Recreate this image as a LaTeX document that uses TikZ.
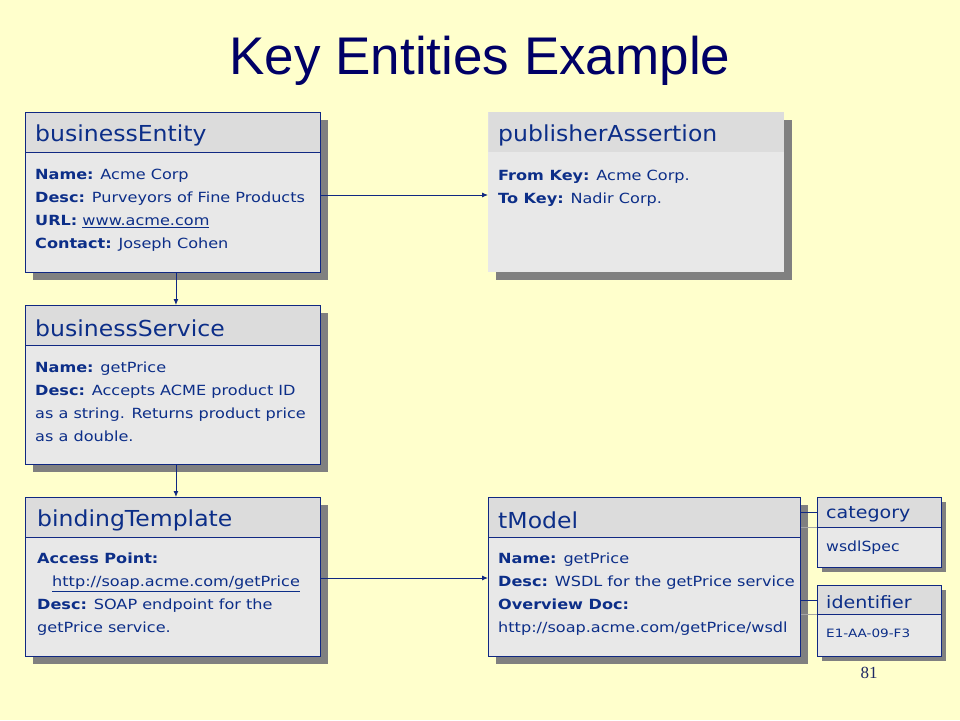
\documentclass[tikz,border=0pt]{standalone}
\usepackage{fontspec}
\setmainfont{DejaVu Sans}
\newfontfamily\headfont[FakeStretch=1.07]{DejaVu Sans}
\newfontfamily\bodyfont[FakeStretch=1.15]{DejaVu Sans}
\newfontfamily\smallfont[FakeStretch=1.12]{DejaVu Sans}
\newfontfamily\idfont[FakeStretch=1.18]{DejaVu Sans}
\newfontfamily\titlefont{Liberation Sans}
\newfontfamily\pagefont{Liberation Serif}
\usepackage{tikz}
\usetikzlibrary{arrows.meta}
\usetikzlibrary{calc,shadows,backgrounds}
\definecolor{slidebg}{RGB}{255,255,204}
\definecolor{titleblue}{RGB}{0,0,102}
\definecolor{boxline}{RGB}{16,40,130}
\definecolor{textblue}{RGB}{12,46,136}
\definecolor{headfill}{RGB}{220,220,220}
\definecolor{bodyfill}{RGB}{232,232,232}
\definecolor{shadowgray}{RGB}{128,128,128}
\definecolor{pageblue}{RGB}{30,40,100}
\tikzset{
 box/.style={draw=boxline, line width=.9pt, fill=bodyfill, anchor=north west, inner sep=0pt},
 boxshadow/.style={general shadow={fill=shadowgray, shadow xshift=#1, shadow yshift=-#1}},
 bareheadband/.style={path picture={
   \fill[headfill] (path picture bounding box.north west) rectangle ([yshift=-#1]path picture bounding box.north east);}},
 headband/.style={path picture={
   \fill[headfill] (path picture bounding box.north west) rectangle ([yshift=-#1]path picture bounding box.north east);
   \draw[boxline, line width=1.8pt] ([yshift=-#1]path picture bounding box.north west) -- ([yshift=-#1]path picture bounding box.north east);}},
 titletext/.style={anchor=west, inner sep=0pt, text=textblue, font=\headfont\fontsize{22}{26}\selectfont},
 smalltitle/.style={anchor=west, inner sep=0pt, text=textblue, font=\smallfont\fontsize{17}{20}\selectfont},
 bodytext/.style={anchor=north west, inner sep=0pt, align=left, text=textblue, font=\bodyfont\fontsize{14}{23}\selectfont},
 conn/.style={draw=boxline, line width=.9pt, -{Latex[length=6pt,width=5pt]}},
 link/.style={draw=boxline, line width=.9pt},
 linkshade/.style={draw=shadowgray!70, line width=.8pt}
}

\begin{document}
\begin{tikzpicture}[x=1pt, y=-1pt]
\fill[slidebg] (0,0) rectangle (960,720);
\useasboundingbox (0,0) rectangle (960,720);

\node[font=\titlefont\fontsize{53}{60}\selectfont, text=titleblue, anchor=base] (title) at (480,74) {Key Entities Example};

% entity boxes
\node[box, boxshadow=8pt, headband=40pt, minimum width=295pt, minimum height=160pt] (ent) at (25,112) {};
\node[box, boxshadow=8pt, headband=40pt, minimum width=295pt, minimum height=159pt] (svc) at (25,305) {};
\node[box, boxshadow=8pt, headband=40pt, minimum width=295pt, minimum height=159pt] (bind) at (25,497) {};
\node[box, draw=none, boxshadow=8pt, bareheadband=40pt, minimum width=296pt, minimum height=160pt] (pub) at (488,112) {};
\node[box, boxshadow=8pt, headband=40pt, minimum width=312pt, minimum height=159pt] (tmod) at (488,497) {};
\node[box, boxshadow=5pt, headband=30pt, minimum width=124pt, minimum height=70pt] (cat) at (817,497) {};
\node[box, boxshadow=5pt, headband=29pt, minimum width=124pt, minimum height=71pt] (ident) at (817,585) {};

% titles
\node[titletext] (ent-title) at ([xshift=10pt,yshift=-23pt]ent.north west) {businessEntity};
\node[titletext] (svc-title) at ([xshift=10pt,yshift=-23pt]svc.north west) {businessService};
\node[titletext] (bind-title) at ([xshift=12pt,yshift=-23pt]bind.north west) {bindingTemplate};
\node[titletext] (pub-title) at ([xshift=10pt,yshift=-23pt]pub.north west) {publisherAssertion};
\node[titletext] (tmod-title) at ([xshift=10pt,yshift=-23pt]tmod.north west) {tModel};
\node[smalltitle] (cat-title) at ([xshift=9pt,yshift=-17pt]cat.north west) {category};
\node[smalltitle] (ident-title) at ([xshift=9pt,yshift=-17pt]ident.north west) {identifier};

% contents
\node[bodytext] (ent-body) at ([xshift=10pt,yshift=-57pt]ent.north west)
 {\textbf{Name:} Acme Corp\\ \textbf{Desc:} Purveyors of Fine Products\\ \textbf{URL:} \underline{www.acme.com}\\ \textbf{Contact:} Joseph Cohen};
\node[bodytext] (svc-body) at ([xshift=10pt,yshift=-57pt]svc.north west)
 {\textbf{Name:} getPrice\\ \textbf{Desc:} Accepts ACME product ID\\ as a string. Returns product price\\ as a double.};
\node[bodytext] (bind-body) at ([xshift=12pt,yshift=-56pt]bind.north west)
 {\textbf{Access Point:}\\ \hspace*{15pt}\underline{http://soap.acme.com/getPrice}\\ \textbf{Desc:} SOAP endpoint for the\\ getPrice service.};
\node[bodytext] (pub-body) at ([xshift=10pt,yshift=-58pt]pub.north west)
 {\textbf{From Key:} Acme Corp.\\ \textbf{To Key:} Nadir Corp.};
\node[bodytext] (tmod-body) at ([xshift=10pt,yshift=-56pt]tmod.north west)
 {\textbf{Name:} getPrice\\ \textbf{Desc:} WSDL for the getPrice service\\ \textbf{Overview Doc:}\\ http://soap.acme.com/getPrice/wsdl};
\node[bodytext, font=\smallfont\fontsize{14}{17}\selectfont, anchor=west] (cat-body) at ([xshift=9pt,yshift=-51pt]cat.north west) {wsdlSpec};
\node[bodytext, font=\idfont\fontsize{11.5}{14}\selectfont, anchor=west] (ident-body) at ([xshift=9pt,yshift=-48pt]ident.north west) {E1-AA-09-F3};

% connectors
\draw[conn] ([yshift=-83pt]ent.north east) -- ([yshift=-83pt]pub.north west);
\draw[conn] ([xshift=3pt]ent.south) -- ([xshift=3pt]svc.north);
\draw[conn] ([xshift=3pt]svc.south) -- ([xshift=3pt]bind.north);
\draw[conn] ([yshift=-81pt]bind.north east) -- ([yshift=-81pt]tmod.north west);
\draw[linkshade] ([yshift=-30pt]tmod.north east) -- ([yshift=-30pt]cat.north west);
\draw[linkshade] ([yshift=-117pt]tmod.north east) -- ([yshift=-29pt]ident.north west);
\draw[link] ([yshift=-15pt]tmod.north east) -- ([yshift=-15pt]cat.north west);
\draw[link] ([yshift=-103pt]tmod.north east) -- ([yshift=-15pt]ident.north west);

\node[font=\pagefont\fontsize{17}{18}\selectfont, text=pageblue] (page) at (869,673) {81};
\end{tikzpicture}
\end{document}
